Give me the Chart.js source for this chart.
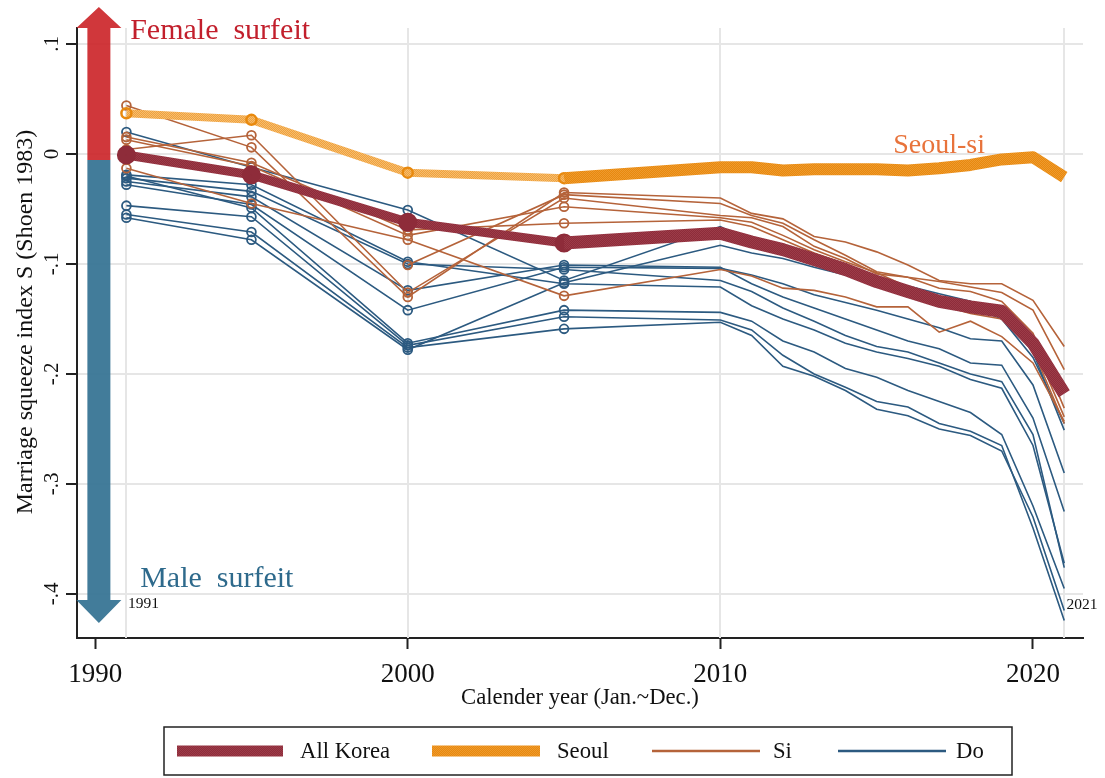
<!DOCTYPE html>
<html>
<head>
<meta charset="utf-8">
<script src="https://cdn.jsdelivr.net/npm/chart.js@4/dist/chart.umd.min.js"></script>
<style>
  html, body { margin: 0; padding: 0; background: #fff; }
  #wrap { position: relative; width: 1105px; height: 778px; }
</style>
</head>
<body>
<div id="wrap"><canvas id="c" width="1105" height="778"></canvas></div>
<script>
// Census years (marked) and annual vital-statistics years
const censusYears = [1991, 1995, 2000, 2005];
const annualYears = [2010, 2011, 2012, 2013, 2014, 2015, 2016, 2017, 2018, 2019, 2020, 2021];

// Nation-wide and Seoul series
const allKoreaCensus = [-0.001, -0.019, -0.062, -0.081];
const allKoreaAnnual = [-0.072, -0.080, -0.087, -0.096, -0.105, -0.116, -0.125, -0.134, -0.139, -0.143, -0.172, -0.218];
const seoulCensus = [0.037, 0.031, -0.017, -0.022];
const seoulAnnual = [-0.012, -0.012, -0.015, -0.014, -0.014, -0.014, -0.015, -0.013, -0.010, -0.005, -0.003, -0.021];

// Metropolitan cities (Si): 1991, 1995, 2000, 2005, then 2010-2021
const si1 = [0.044, 0.006, -0.130, -0.035, -0.040, -0.054, -0.059, -0.075, -0.080, -0.089, -0.101, -0.115, -0.118, -0.118, -0.133, -0.175];
const si2 = [null, null, -0.101, -0.037, -0.045, -0.056, -0.063, -0.078, -0.092, -0.107, -0.112, -0.116, -0.121, -0.126, -0.142, -0.196];
const si3 = [0.004, 0.017, -0.126, -0.040, -0.056, -0.058, -0.066, -0.084, -0.095, -0.109, -0.112, -0.122, -0.125, -0.134, -0.163, -0.231];
const si4 = [0.013, -0.011, -0.074, -0.048, -0.058, -0.062, -0.074, -0.087, -0.098, -0.108, -0.121, -0.134, -0.143, -0.148, -0.172, -0.239];
const si5 = [0.0155, -0.008, -0.069, -0.063, -0.060, -0.066, -0.078, -0.090, -0.100, -0.112, -0.124, -0.137, -0.145, -0.150, -0.178, -0.245];
const si6 = [-0.013, -0.045, -0.078, -0.129, -0.105, -0.111, -0.122, -0.124, -0.130, -0.139, -0.139, -0.162, -0.152, -0.166, -0.190, -0.243];

// Provinces (Do): 1991, 1995, 2000, 2005, then 2010-2021
const do1 = [0.020, -0.012, -0.051, -0.115, -0.066, -0.080, -0.088, -0.097, -0.106, -0.114, -0.120, -0.127, -0.134, -0.145, -0.180, -0.251];
const do2 = [-0.019, -0.028, -0.098, -0.118, -0.121, -0.138, -0.150, -0.160, -0.172, -0.180, -0.186, -0.193, -0.205, -0.213, -0.265, -0.372];
const do3 = [-0.022, -0.034, -0.100, -0.105, -0.115, -0.125, -0.140, -0.152, -0.165, -0.175, -0.180, -0.190, -0.200, -0.207, -0.255, -0.376];
const do4 = [-0.025, -0.039, -0.124, -0.101, -0.103, -0.118, -0.130, -0.140, -0.150, -0.160, -0.170, -0.177, -0.190, -0.192, -0.240, -0.325];
const do5 = [-0.028, -0.046, -0.142, -0.103, -0.104, -0.110, -0.118, -0.128, -0.135, -0.142, -0.150, -0.158, -0.168, -0.170, -0.210, -0.290];
const do6 = [-0.020, -0.049, -0.172, -0.142, -0.144, -0.152, -0.170, -0.180, -0.195, -0.203, -0.215, -0.225, -0.235, -0.255, -0.320, -0.395];
const do7 = [-0.047, -0.057, -0.174, -0.148, -0.151, -0.160, -0.183, -0.200, -0.212, -0.225, -0.230, -0.245, -0.252, -0.265, -0.340, -0.424];
const do8 = [-0.055, -0.071, -0.176, -0.159, -0.153, -0.165, -0.193, -0.202, -0.215, -0.232, -0.238, -0.250, -0.256, -0.270, -0.330, -0.415];
const do9 = [-0.058, -0.078, -0.178, -0.117, -0.083, -0.090, -0.095, -0.103, -0.110, -0.117, -0.122, -0.130, -0.138, -0.150, -0.185, -0.245];

// Axis ticks and labels
const yTickValues = [0.1, 0, -0.1, -0.2, -0.3, -0.4];
const yTickLabels = ['.1', '0', '-.1', '-.2', '-.3', '-.4'];
const xTickValues = [1990, 2000, 2010, 2020];
const xTickLabels = ['1990', '2000', '2010', '2020'];
const xGridYears = [1991, 2000, 2010, 2021];
const legendNames = ['All Korea', 'Seoul', 'Si', 'Do'];

const SERIF = "'Liberation Serif', 'Times New Roman', serif";
const COL = {
  korea: '#8E2C3A', koreaDot: '#9C3C49',
  seoul: '#E8890E', seoulDot: '#EE9A2E',
  seoulLight: '#F0A23C', seoulLightDot: '#F5BC70',
  si: '#B5633A', do: '#2C5A80',
  red: 'rgba(204, 38, 42, 0.92)', blue: 'rgba(52, 114, 146, 0.93)'
};

const canvas = document.getElementById('c');
const ctx = canvas.getContext('2d');

// fine checker texture used for the thick summary lines
function texture(base, dot) {
  const t = document.createElement('canvas');
  t.width = 2; t.height = 2;
  const g = t.getContext('2d');
  g.fillStyle = base; g.fillRect(0, 0, 2, 2);
  g.fillStyle = dot; g.fillRect(0, 0, 1, 1); g.fillRect(1, 1, 1, 1);
  return ctx.createPattern(t, 'repeat');
}
const koreaTex = texture(COL.korea, COL.koreaDot);
const seoulTex = texture(COL.seoul, COL.seoulDot);
const seoulLightTex = texture(COL.seoulLight, COL.seoulLightDot);

function pts(years, vals) { return years.map((x, i) => ({ x: x, y: vals[i] })); }
const fullYears = censusYears.concat(annualYears);
const trendYears = [censusYears[3]].concat(annualYears);

function regionSet(vals, color) {
  return {
    data: pts(fullYears, vals),
    borderColor: color, borderWidth: 1.6,
    pointRadius: c => (c.dataIndex < 4 ? 4.4 : 0),
    pointBorderColor: color, pointBorderWidth: 1.8,
    pointBackgroundColor: 'rgba(255,255,255,0)',
    tension: 0, spanGaps: false
  };
}

const datasets = [
  { data: pts(trendYears, [allKoreaCensus[3]].concat(allKoreaAnnual)), borderColor: koreaTex, borderWidth: 13, pointRadius: 0, borderJoinStyle: 'round', borderCapStyle: 'butt' },
  { data: pts(censusYears, allKoreaCensus), borderColor: koreaTex, borderWidth: 9, pointRadius: 5, pointBackgroundColor: COL.korea, pointBorderColor: COL.korea, borderJoinStyle: 'round' },
  { data: pts(trendYears, [seoulCensus[3]].concat(seoulAnnual)), borderColor: seoulTex, borderWidth: 12, pointRadius: 0, borderJoinStyle: 'round', borderCapStyle: 'butt' },
  { data: pts(censusYears, seoulCensus), borderColor: seoulLightTex, borderWidth: 8, pointRadius: 5, pointBackgroundColor: 'rgba(255,255,255,0)', pointBorderColor: COL.seoul, pointBorderWidth: 2.5, borderJoinStyle: 'round' },
  regionSet(si1, COL.si), regionSet(si2, COL.si), regionSet(si3, COL.si),
  regionSet(si4, COL.si), regionSet(si5, COL.si), regionSet(si6, COL.si),
  regionSet(do1, COL.do), regionSet(do2, COL.do), regionSet(do3, COL.do),
  regionSet(do4, COL.do), regionSet(do5, COL.do), regionSet(do6, COL.do),
  regionSet(do7, COL.do), regionSet(do8, COL.do), regionSet(do9, COL.do)
];

// direction arrows and annotation texts, placed in data units
const arrowX = 1990.12;
const arrowUp = { from: -0.0055, base: 0.1145, tip: 0.1336 };
const arrowDown = { from: -0.0055, base: -0.4055, tip: -0.4264 };
const notes = [
  { text: 'Female  surfeit', x: 1991.12, y: 0.1045, color: '#C21F2C', size: 30 },
  { text: 'Male  surfeit', x: 1991.44, y: -0.394, color: '#2E6A8C', size: 30 },
  { text: 'Seoul-si', x: 2015.53, y: 0.001, color: '#E8733B', size: 28 },
  { text: '1991', x: 1991.05, y: -0.4127, color: '#111', size: 15.5 },
  { text: '2021', x: 2021.07, y: -0.4136, color: '#111', size: 15.5 }
];

const decor = {
  id: 'decor',
  beforeDatasetsDraw(chart) {
    const { ctx: g, chartArea: a, scales: { x, y } } = chart;
    g.save();
    g.strokeStyle = '#e6e6e6';
    g.lineWidth = 2;
    xGridYears.forEach(v => {
      const px = Math.round(x.getPixelForValue(v));
      g.beginPath(); g.moveTo(px, a.top); g.lineTo(px, a.bottom); g.stroke();
    });
    const cx = x.getPixelForValue(arrowX);
    const bar = 11.5, head = 22.5;
    function arrow(spec, color) {
      const yf = y.getPixelForValue(spec.from);
      const yb = y.getPixelForValue(spec.base);
      const yt = y.getPixelForValue(spec.tip);
      g.fillStyle = color;
      g.beginPath();
      g.moveTo(cx - bar, yf);
      g.lineTo(cx - bar, yb);
      g.lineTo(cx - head, yb);
      g.lineTo(cx, yt);
      g.lineTo(cx + head, yb);
      g.lineTo(cx + bar, yb);
      g.lineTo(cx + bar, yf);
      g.closePath(); g.fill();
    }
    arrow(arrowUp, COL.red);
    arrow(arrowDown, COL.blue);
    g.restore();
  },
  afterDatasetsDraw(chart) {
    const { ctx: g, scales: { x, y } } = chart;
    g.save();
    g.textAlign = 'left';
    g.textBaseline = 'alphabetic';
    notes.forEach(n => {
      g.font = n.size + 'px ' + SERIF;
      g.fillStyle = n.color;
      g.fillText(n.text, x.getPixelForValue(n.x), y.getPixelForValue(n.y));
    });
    g.restore();
  },
  afterDraw(chart) {
    const { ctx: g, chartArea: a, scales: { x, y } } = chart;
    g.save();
    g.fillStyle = '#111';
    // y tick labels, rotated
    g.font = '21px ' + SERIF;
    g.textAlign = 'center';
    g.textBaseline = 'alphabetic';
    yTickValues.forEach((v, i) => {
      g.save();
      g.translate(a.left - 19, y.getPixelForValue(v));
      g.rotate(-Math.PI / 2);
      g.fillText(yTickLabels[i], 0, 0);
      g.restore();
    });
    // x tick labels
    g.font = '27px ' + SERIF;
    xTickValues.forEach((v, i) => {
      g.fillText(xTickLabels[i], x.getPixelForValue(v), a.bottom + 44);
    });
    // axis titles
    g.font = '22.7px ' + SERIF;
    g.fillText('Calender year (Jan.~Dec.)', (a.left + a.right) / 2, a.bottom + 66);
    g.save();
    g.font = '24px ' + SERIF;
    g.translate(32, 322);
    g.rotate(-Math.PI / 2);
    g.fillText('Marriage squeeze index S (Shoen 1983)', 0, 0);
    g.restore();

    // legend
    const box = { l: 164, t: 727, w: 848, h: 48 };
    g.strokeStyle = '#222';
    g.lineWidth = 1.5;
    g.strokeRect(box.l, box.t, box.w, box.h);
    const cy = box.t + box.h / 2;
    const items = [
      { x0: 177, x1: 283, tx: 300, stroke: koreaTex, w: 11 },
      { x0: 432, x1: 540, tx: 557, stroke: seoulTex, w: 11 },
      { x0: 652, x1: 760, tx: 773, stroke: COL.si, w: 2.5 },
      { x0: 838, x1: 946, tx: 956, stroke: COL.do, w: 2.5 }
    ];
    g.font = '22.7px ' + SERIF;
    g.textAlign = 'left';
    g.textBaseline = 'middle';
    items.forEach((it, i) => {
      g.strokeStyle = it.stroke;
      g.lineWidth = it.w;
      g.lineCap = 'butt';
      g.beginPath(); g.moveTo(it.x0, cy); g.lineTo(it.x1, cy); g.stroke();
      g.fillStyle = '#111';
      g.fillText(legendNames[i], it.tx, cy + 1);
    });
    g.restore();
  }
};

new Chart(ctx, {
  type: 'line',
  data: { datasets: datasets },
  options: {
    responsive: false,
    animation: false,
    devicePixelRatio: 1,
    layout: { padding: { top: 28, right: 22, bottom: 0, left: 0 } },
    plugins: { legend: { display: false }, tooltip: { enabled: false } },
    scales: {
      x: {
        type: 'linear', min: 1989.42, max: 2021.6,
        afterBuildTicks: s => { s.ticks = xTickValues.map(v => ({ value: v })); },
        afterFit: s => { s.height = 140; },
        ticks: { display: false },
        grid: { drawOnChartArea: false, drawTicks: true, tickLength: 11, tickColor: '#222', tickWidth: 2 },
        border: { display: true, color: '#222', width: 2 }
      },
      y: {
        type: 'linear', min: -0.44, max: 0.1145,
        afterBuildTicks: s => { s.ticks = yTickValues.map(v => ({ value: v })); },
        afterFit: s => { s.width = 77; },
        ticks: { display: false },
        grid: { color: '#e6e6e6', lineWidth: 2, drawTicks: true, tickLength: 11, tickColor: '#222', tickWidth: 2 },
        border: { display: true, color: '#222', width: 2 }
      }
    }
  },
  plugins: [decor]
});
</script>
</body>
</html>
